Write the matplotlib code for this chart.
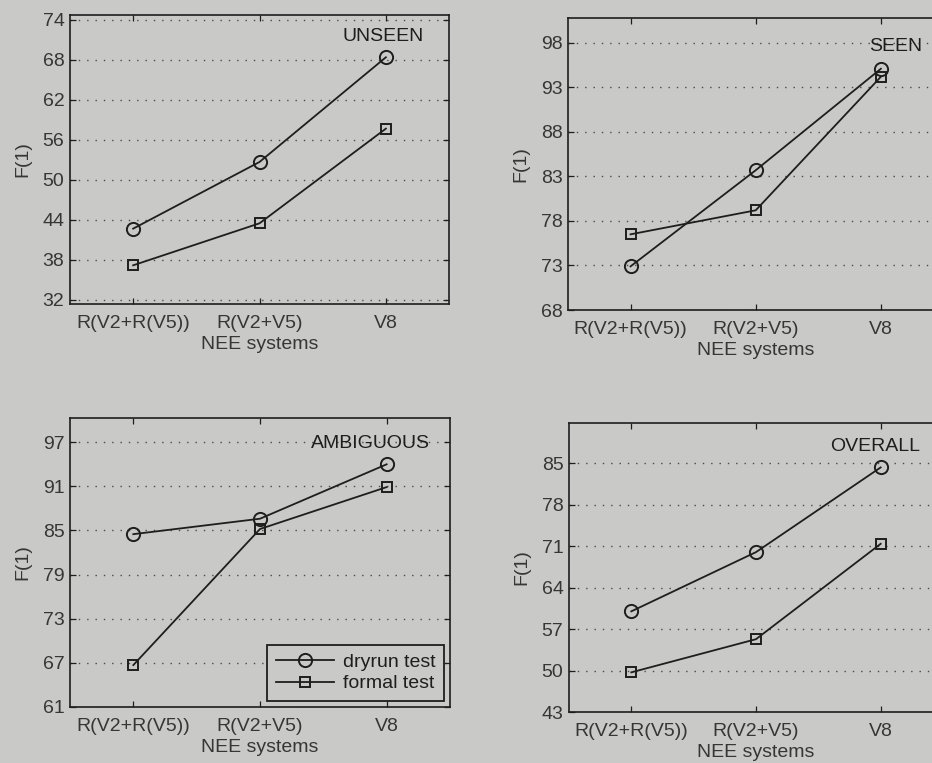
import matplotlib
matplotlib.use('Agg')
import matplotlib.pyplot as plt
import numpy as np

plt.rcParams['font.family'] = ['Liberation Sans', 'DejaVu Sans']

systems = ['R(V2+R(V5))', 'R(V2+V5)', 'V8']

unseen_dry = [42.7, 52.7, 68.4]
unseen_formal = [37.2, 43.5, 57.7]
seen_dry = [72.9, 83.7, 95.1]
seen_formal = [76.5, 79.2, 94.2]
ambig_dry = [84.5, 86.6, 94.0]
ambig_formal = [66.7, 85.2, 90.9]
overall_dry = [60.0, 70.0, 84.3]
overall_formal = [49.7, 55.3, 71.4]

bg = '#c9c9c7'
ink = '#1e1e1e'
txt = '#363636'

fig = plt.figure(figsize=(9.32, 7.63), dpi=100, facecolor=bg)

panels = [
    # rect, title, dry, formal, ylim, yticks, title pos
    ([0.0751, 0.6016, 0.4067, 0.3788], 'UNSEEN', unseen_dry, unseen_formal,
     (31.4, 74.75), np.arange(32, 75, 6), (0.826, 0.924)),
    ([0.6094, 0.5937, 0.4029, 0.3827], 'SEEN', seen_dry, seen_formal,
     (68, 100.8), np.arange(68, 99, 5), (0.873, 0.901)),
    ([0.0751, 0.0734, 0.4077, 0.3788], 'AMBIGUOUS', ambig_dry, ambig_formal,
     (61, 100.3), np.arange(61, 98, 6), (0.792, 0.913)),
    ([0.6105, 0.0668, 0.4013, 0.3788], 'OVERALL', overall_dry, overall_formal,
     (43, 91.8), np.arange(43, 86, 7), (0.818, 0.917)),
]

x = np.arange(1, len(systems) + 1)

for rect, name, dry, formal, ylim, yt, tpos in panels:
    ax = fig.add_axes(rect)
    ax.set_facecolor(bg)
    ax.plot(x, dry, color=ink, lw=1.3, marker='o', ms=9.5, mfc='none',
            mec=ink, mew=1.4, label='dryrun test')
    ax.plot(x, formal, color=ink, lw=1.3, marker='s', ms=7.5, mfc='none',
            mec=ink, mew=1.4, label='formal test')
    ax.set_xlim(0.5, 3.5)
    ax.set_ylim(*ylim)
    ax.set_xticks(x)
    ax.set_xticklabels(systems)
    ax.set_yticks(yt)
    ax.grid(axis='y', color='#4a4a4a', linestyle=(0, (1, 5)), lw=1.0)
    ax.tick_params(direction='in', length=4, width=0.9, colors=ink,
                   top=True, right=True, labelsize=14, labelcolor=txt)
    ax.tick_params(axis='x', pad=8)
    ax.tick_params(axis='y', pad=4)
    for s in ax.spines.values():
        s.set_color(ink)
        s.set_linewidth(1.2)
    ax.set_xlabel('NEE systems', fontsize=14, color=txt, labelpad=3)
    ax.set_ylabel('F(1)', fontsize=14, color=txt, labelpad=8)
    ax.text(tpos[0], tpos[1], name, transform=ax.transAxes, ha='center',
            va='center', fontsize=14, color='#1e1e1e')
    if name == 'AMBIGUOUS':
        leg = ax.legend(loc='lower right', fontsize=14, fancybox=False,
                        framealpha=1, facecolor=bg, edgecolor=ink,
                        borderaxespad=0.3, handlelength=3.0,
                        handletextpad=0.45, labelspacing=0.2, borderpad=0.45)
        leg.get_frame().set_linewidth(1.3)
        for t in leg.get_texts():
            t.set_color('#1e1e1e')

fig.savefig('out.png', dpi=100, facecolor=bg)
